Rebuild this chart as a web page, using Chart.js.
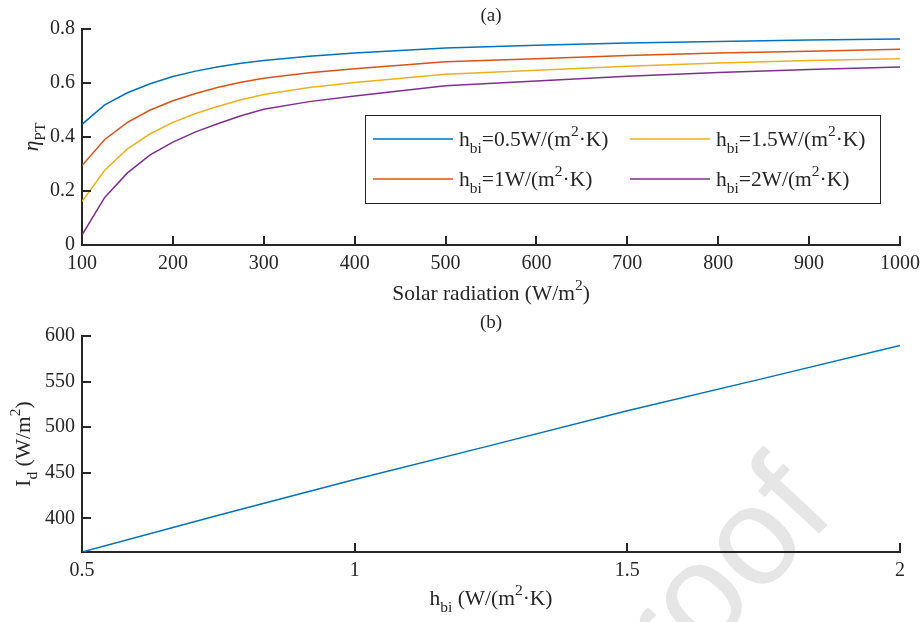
<!DOCTYPE html>
<html>
<head>
<meta charset="utf-8">
<script src="https://cdn.jsdelivr.net/npm/chart.js@4.4.1/dist/chart.umd.min.js"></script>
<style>
    html, body { margin: 0; padding: 0; background: #fff; }
    #wrap { position: relative; width: 922px; height: 622px; overflow: hidden; }
    canvas { position: absolute; left: 0; }
    #chartA { top: 0; }
    #chartB { top: 310px; }
</style>
</head>
<body>
<div id="wrap">
    <canvas id="chartA" width="922" height="310"></canvas>
    <canvas id="chartB" width="922" height="312"></canvas>
</div>
<script>
// ---------------------------------------------------------------------------
// Data
// ---------------------------------------------------------------------------

// (a) efficiency vs solar radiation
const radiation = [100, 125, 150, 175, 200, 225, 250, 275, 300, 350, 400, 500, 600, 700, 800, 900, 1000];
const etaH05 = [0.447, 0.519, 0.564, 0.597, 0.624, 0.644, 0.660, 0.673, 0.683, 0.699, 0.711, 0.730, 0.740, 0.748, 0.754, 0.759, 0.763];
const etaH10 = [0.294, 0.391, 0.454, 0.500, 0.534, 0.561, 0.584, 0.603, 0.618, 0.638, 0.653, 0.679, 0.690, 0.702, 0.711, 0.718, 0.725];
const etaH15 = [0.161, 0.277, 0.356, 0.412, 0.454, 0.487, 0.514, 0.538, 0.557, 0.583, 0.602, 0.632, 0.647, 0.662, 0.674, 0.683, 0.690];
const etaH20 = [0.037, 0.176, 0.267, 0.334, 0.381, 0.419, 0.450, 0.479, 0.503, 0.531, 0.552, 0.590, 0.607, 0.625, 0.639, 0.650, 0.659];
const seriesNames = [
    "h_{bi}=0.5W/(m^{2}·K)",
    "h_{bi}=1W/(m^{2}·K)",
    "h_{bi}=1.5W/(m^{2}·K)",
    "h_{bi}=2W/(m^{2}·K)",
];
const seriesColors = ["#0072BD", "#D95319", "#EDB120", "#7E2F8E"];

// (b) threshold radiation vs h_bi
const hbi = [0.5, 0.75, 1, 1.25, 1.5, 1.75, 2];
const radThreshold = [363, 403.3, 442.6, 480, 518, 553.5, 589.7];

// tick labels
const ticksAX = [100, 200, 300, 400, 500, 600, 700, 800, 900, 1000];
const ticksAY = [0, 0.2, 0.4, 0.6, 0.8];
const ticksBX = [0.5, 1, 1.5, 2];
const ticksBY = [400, 450, 500, 550, 600];

const AXIS = "#262626";
const SERIF = "'Liberation Serif', 'Times New Roman', serif";
const TEXT_SIZE = 21.5;

// ---------------------------------------------------------------------------
// Tiny TeX-like text: _{sub}, ^{sup}, *{italic}
// ---------------------------------------------------------------------------
function parseRich(str) {
    const parts = [];
    const re = /([_^*])\{([^}]*)\}/g;
    let last = 0, m;
    while ((m = re.exec(str))) {
        if (m.index > last) parts.push({ t: str.slice(last, m.index), k: 0 });
        parts.push({ t: m[2], k: m[1] === "_" ? 1 : m[1] === "^" ? -1 : 0, it: m[1] === "*" });
        last = re.lastIndex;
    }
    if (last < str.length) parts.push({ t: str.slice(last), k: 0 });
    return parts;
}

function drawRich(ctx, str, x, y, size, align, angle) {
    const parts = parseRich(str);
    const small = size * 0.72;
    const fontOf = (p) => `${p.it ? "italic " : ""}${p.k ? small : size}px ${SERIF}`;
    ctx.save();
    ctx.translate(x, y);
    if (angle) ctx.rotate(angle);
    ctx.textBaseline = "alphabetic";
    ctx.textAlign = "left";
    let total = 0;
    for (const p of parts) {
        ctx.font = fontOf(p);
        p.w = ctx.measureText(p.t).width;
        total += p.w;
    }
    let cx = align === "center" ? -total / 2 : 0;
    for (const p of parts) {
        ctx.font = fontOf(p);
        const dy = p.k === 1 ? size * 0.32 : p.k === -1 ? -size * 0.45 : 0;
        ctx.fillText(p.t, cx, dy);
        cx += p.w;
    }
    ctx.restore();
}

// ---------------------------------------------------------------------------
// Plugin: inward ticks, titles, legend, watermark
// ---------------------------------------------------------------------------
const figureDecor = {
    id: "figureDecor",
    beforeDraw(chart, args, opts) {
        if (!opts.watermark) return;
        const ctx = chart.ctx;
        ctx.save();
        ctx.translate(opts.watermark.x, opts.watermark.y);
        ctx.rotate(-47 * Math.PI / 180);
        ctx.fillStyle = "#e6e6e6";
        ctx.font = "140px 'Liberation Sans', Arial, sans-serif";
        ctx.fillText(opts.watermark.text, 0, 0);
        ctx.restore();
    },
    afterDraw(chart, args, opts) {
        const ctx = chart.ctx;
        const area = chart.chartArea;
        const xs = chart.scales.x, ys = chart.scales.y;

        // ticks pointing into the plot
        ctx.save();
        ctx.strokeStyle = AXIS;
        ctx.lineWidth = 2;
        ctx.beginPath();
        for (const t of xs.ticks) {
            const px = Math.round(xs.getPixelForValue(t.value));
            ctx.moveTo(px, area.bottom);
            ctx.lineTo(px, area.bottom - 9);
        }
        for (const t of ys.ticks) {
            const py = Math.round(ys.getPixelForValue(t.value));
            ctx.moveTo(area.left, py);
            ctx.lineTo(area.left + 9, py);
        }
        ctx.stroke();
        ctx.restore();

        ctx.save();
        ctx.fillStyle = AXIS;
        const mid = (area.left + area.right) / 2;
        drawRich(ctx, opts.title, mid, opts.titleY, 19, "center");
        drawRich(ctx, opts.xTitle, mid, opts.xTitleY, TEXT_SIZE, "center");
        drawRich(ctx, opts.yTitle, opts.yTitleX, (area.top + area.bottom) / 2, TEXT_SIZE, "center", -Math.PI / 2);
        ctx.restore();

        if (opts.legend) {
            const L = opts.legend;
            ctx.save();
            ctx.fillStyle = "#fff";
            ctx.fillRect(L.x, L.y, L.w, L.h);
            ctx.strokeStyle = AXIS;
            ctx.lineWidth = 1;
            ctx.strokeRect(L.x + 0.5, L.y + 0.5, L.w, L.h);
            chart.data.datasets.forEach((ds, i) => {
                const col = Math.floor(i / 2), row = i % 2;
                const cy = L.y + L.rowY[row];
                const x0 = L.x + L.colX[col];
                ctx.strokeStyle = ds.borderColor;
                ctx.lineWidth = 1.5;
                ctx.beginPath();
                ctx.moveTo(x0, cy);
                ctx.lineTo(x0 + 80, cy);
                ctx.stroke();
                ctx.fillStyle = AXIS;
                drawRich(ctx, ds.label, x0 + 86, cy + 7, TEXT_SIZE, "left");
            });
            ctx.restore();
        }
    },
};

function axisTicks(values) {
    return (scale) => { scale.ticks = values.map((v) => ({ value: v })); };
}

function scaleOptions(min, max, values, fit) {
    return {
        type: "linear",
        min: min,
        max: max,
        afterBuildTicks: axisTicks(values),
        afterFit: (s) => {
            fit(s);
            // keep edge labels from shrinking the plot area
            s.paddingLeft = 0;
            s.paddingRight = 0;
            s.paddingTop = 0;
            s.paddingBottom = 0;
        },
        grid: { display: false, drawTicks: false },
        border: { display: true, color: AXIS, width: 2 },
        ticks: {
            color: AXIS,
            font: { family: SERIF, size: 20 },
            padding: 7,
            autoSkip: false,
            maxRotation: 0,
            callback: (v) => String(+v.toFixed(2)),
        },
    };
}

Chart.register(figureDecor);

// ---------------------------------------------------------------------------
// (a)
// ---------------------------------------------------------------------------
const etaSeries = [etaH05, etaH10, etaH15, etaH20];
new Chart(document.getElementById("chartA"), {
    type: "line",
    data: {
        datasets: etaSeries.map((vals, i) => ({
            label: seriesNames[i],
            data: radiation.map((r, j) => ({ x: r, y: vals[j] })),
            borderColor: seriesColors[i],
            borderWidth: 1.5,
            pointRadius: 0,
            tension: 0,
            fill: false,
        })),
    },
    options: {
        responsive: false,
        animation: false,
        devicePixelRatio: 1,
        layout: { padding: { top: 29, right: 22, bottom: 0, left: 0 } },
        scales: {
            x: scaleOptions(100, 1000, ticksAX, (s) => { s.height = 65; }),
            y: scaleOptions(0, 0.8, ticksAY, (s) => { s.width = 82; }),
        },
        plugins: {
            legend: { display: false },
            tooltip: { enabled: false },
            figureDecor: {
                title: "(a)",
                titleY: 21,
                xTitle: "Solar radiation (W/m^{2})",
                xTitleY: 300,
                yTitle: "*{η}_{PT}",
                yTitleX: 38,
                legend: { x: 365, y: 115, w: 515, h: 88, rowY: [24, 64], colX: [8, 265] },
            },
        },
    },
});

// ---------------------------------------------------------------------------
// (b)
// ---------------------------------------------------------------------------
new Chart(document.getElementById("chartB"), {
    type: "line",
    data: {
        datasets: [{
            label: "I_{d}",
            data: hbi.map((h, j) => ({ x: h, y: radThreshold[j] })),
            borderColor: seriesColors[0],
            borderWidth: 1.5,
            pointRadius: 0,
            tension: 0,
            fill: false,
        }],
    },
    options: {
        responsive: false,
        animation: false,
        devicePixelRatio: 1,
        layout: { padding: { top: 26, right: 22, bottom: 0, left: 0 } },
        scales: {
            x: scaleOptions(0.5, 2, ticksBX, (s) => { s.height = 70; }),
            y: scaleOptions(363, 600, ticksBY, (s) => { s.width = 82; }),
        },
        plugins: {
            legend: { display: false },
            tooltip: { enabled: false },
            figureDecor: {
                title: "(b)",
                titleY: 18,
                xTitle: "h_{bi} (W/(m^{2}·K)",
                xTitleY: 295,
                yTitle: "I_{d} (W/m^{2})",
                yTitleX: 30,
                watermark: { text: "Proof", x: 609, y: 449 },
            },
        },
    },
});
</script>
</body>
</html>
